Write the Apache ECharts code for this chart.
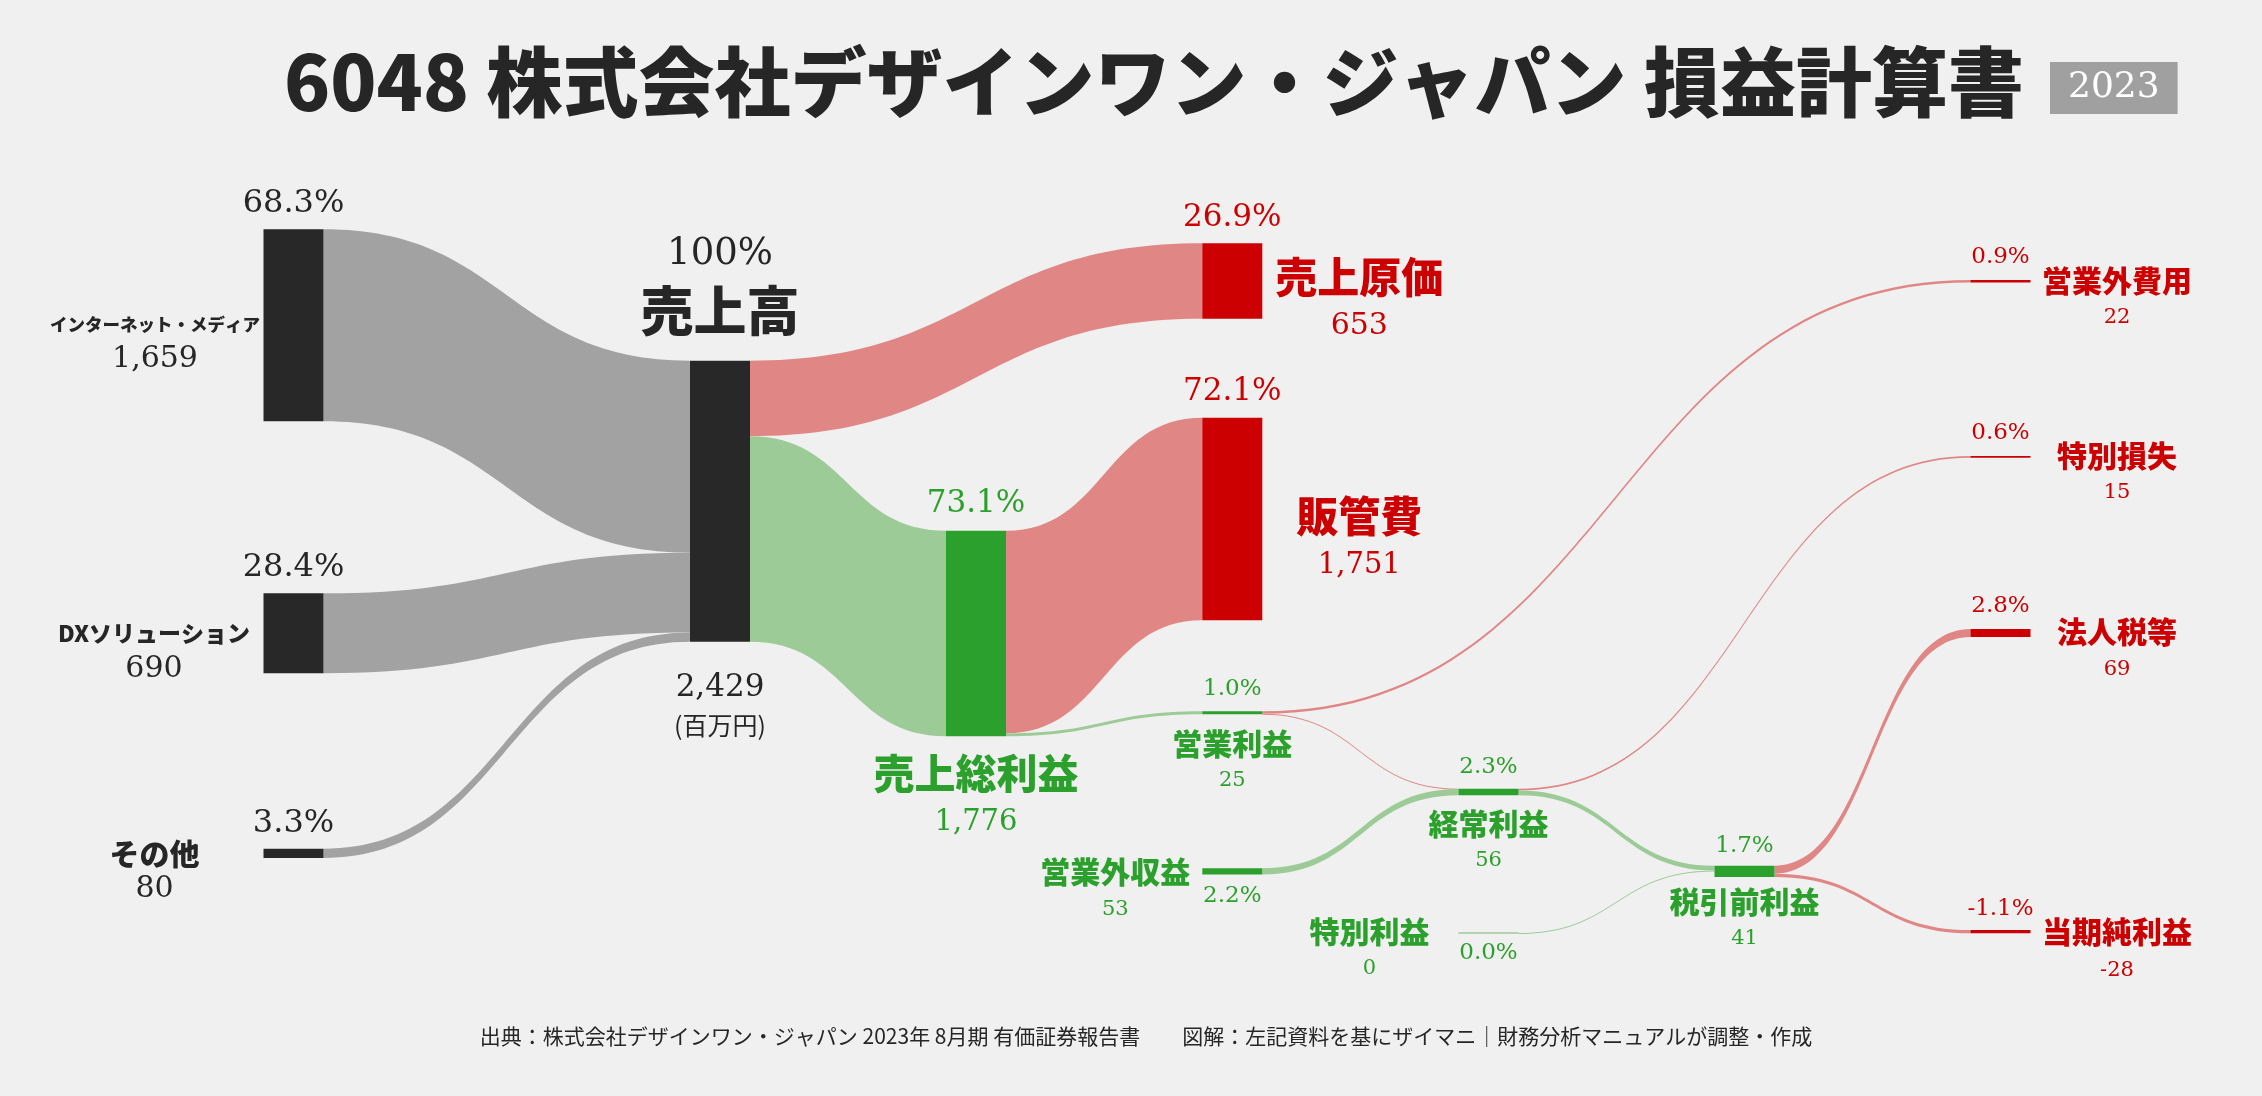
<!DOCTYPE html>
<html><head><meta charset="utf-8">
<script src="https://cdn.jsdelivr.net/npm/echarts@6/dist/echarts.min.js"></script>
<style>html,body{margin:0;padding:0;background:#f0f0f0;}#c{width:2262px;height:1096px;}</style>
</head><body><div id="c"></div>
<script>
// ---------------- data ----------------
const nodeNames = ['インターネット・メディア','DXソリューション','その他','売上高','売上総利益','売上原価','販管費','営業利益','営業外収益','経常利益','特別利益','税引前利益','営業外費用','特別損失','法人税等','当期純利益'];
const nodeValues = [1659, 690, 80, 2429, 1776, 653, 1751, 25, 53, 56, 0, 41, 22, 15, 69, -28];
const nodeShares = ['68.3%','28.4%','3.3%','100%','73.1%','26.9%','72.1%','1.0%','2.2%','2.3%','0.0%','1.7%','0.9%','0.6%','2.8%','-1.1%'];
const linkSources = ['インターネット・メディア','DXソリューション','その他','売上高','売上高','売上総利益','売上総利益','営業利益','営業利益','営業外収益','経常利益','経常利益','特別利益','税引前利益','税引前利益'];
const linkTargets = ['売上高','売上高','売上高','売上原価','売上総利益','販管費','営業利益','営業外費用','経常利益','経常利益','特別損失','税引前利益','税引前利益','法人税等','当期純利益'];
const linkValues = [1659, 690, 80, 653, 1776, 1751, 25, 22, 3, 53, 15, 41, 0, 69, 28];
const titleText = '6048 株式会社デザインワン・ジャパン 損益計算書';
const yearText = '2023';
const unitText = '(百万円)';
const sourceText = '出典：株式会社デザインワン・ジャパン 2023年 8月期 有価証券報告書　　図解：左記資料を基にザイマニ｜財務分析マニュアルが調整・作成';

// ---------------- styles / layout ----------------
const W = 2262, H = 1096;
const PX_PER_UNIT = 0.1157;
const SERIF = '"DejaVu Serif", serif';
const SANS = '"Noto Sans CJK JP", "Noto Sans", sans-serif';
const nodeKind = ['rev','rev','rev','rev','profit','cost','cost','profit','profit','profit','profit','profit','cost','cost','cost','cost'];
const linkKind = ['rev','rev','rev','cost','profit','cost','profit','cost','cost','profit','cost','profit','profit','cost','cost'];
const nodeColor = {rev:'#282828', cost:'#cc0000', profit:'#2ca02c'};
const textColor = {rev:'#262626', cost:'#cc0000', profit:'#2ca02c'};
const linkColor = {rev:'#a2a2a2', cost:'#e08785', profit:'#9ccb98'};
// node placement (top-left, px) + label styling
const nodeLayout = [
  {x:263.5, y:229.3, depth:0, side:'left',  dist:108.5, nf:17.5, nlh:30, vf:30, vlh:40, dy:-1, pside:'top', pdist:10, pf:32},
  {x:263.5, y:593.3, depth:0, side:'left',  dist:109.5, nf:23, nlh:30, vf:30, vlh:42, dy:0, pside:'top', pdist:10, pf:32},
  {x:263.5, y:848.7, depth:0, side:'left',  dist:109, nf:30, nlh:32, vf:30, vlh:40, dy:0, pside:'top', pdist:9, pf:32},
  {x:690,   y:360.7, depth:1, side:'unit',  dist:26, vf:31, vlh:40, uf:25, ulh:36, pside:'top', pdist:20, pf:37, plh:52, pname:true},
  {x:946,   y:530.7, depth:2, side:'bottom',dist:12, nf:41, nlh:50, vf:29, vlh:48, pside:'top', pdist:11, pf:31},
  {x:1202.3,y:243.3, depth:3, side:'right', dist:97, nf:42, nlh:50, vf:30, vlh:48, dy:-4, pside:'top', pdist:10, pf:31},
  {x:1202.3,y:417.7, depth:3, side:'right', dist:97, nf:42, nlh:50, vf:29, vlh:48, dy:-3, pside:'top', pdist:10, pf:31},
  {x:1202.3,y:711.3, depth:3, side:'bottom',dist:11, nf:30, nlh:36, vf:21, vlh:38, pside:'top', pdist:11, pf:23},
  {x:1202.3,y:868.3, depth:3, side:'left',  dist:87, nf:30, nlh:36, vf:21, vlh:40, dy:0, pside:'bottom', pdist:10, pf:23},
  {x:1458.5,y:788.7, depth:4, side:'bottom',dist:10, nf:30, nlh:36, vf:21, vlh:38, pside:'top', pdist:10, pf:23},
  {x:1458.5,y:933,   depth:4, side:'left',  dist:88.5, nf:30, nlh:36, vf:21, vlh:38, dy:-1, pside:'bottom', pdist:9, pf:23},
  {x:1714.5,y:865.7, depth:4, side:'bottom',dist:7, nf:30, nlh:36, vf:21, vlh:38, pside:'top', pdist:8, pf:23},
  {x:1970.5,y:280,   depth:6, side:'right', dist:86.5, nf:30, nlh:36, vf:21, vlh:38, dy:-1, pside:'top', pdist:11, pf:23},
  {x:1970.5,y:456,   depth:6, side:'right', dist:86.5, nf:30, nlh:36, vf:21, vlh:38, dy:-1, pside:'top', pdist:11, pf:23},
  {x:1970.5,y:629,   depth:6, side:'right', dist:86.5, nf:30, nlh:36, vf:21, vlh:40, dy:-1, pside:'top', pdist:11, pf:23},
  {x:1970.5,y:930,   depth:6, side:'right', dist:86.5, nf:30, nlh:36, vf:21, vlh:42, dy:0, pside:'top', pdist:9, pf:23}
];

// gap so that the library's value->pixel scale equals PX_PER_UNIT
function nodeFlow(name){
  let i=0,o=0;
  linkSources.forEach((s,k)=>{ if(s===name) o+=linkValues[k]; if(linkTargets[k]===name) i+=linkValues[k]; });
  return Math.max(i,o);
}
const cols = {};
nodeNames.forEach((n,i)=>{ const d=nodeLayout[i].depth; (cols[d]=cols[d]||{n:0,s:0}); cols[d].n++; cols[d].s+=nodeFlow(n); });
let gap = Infinity;
Object.values(cols).forEach(c=>{ if(c.n>1){ gap=Math.min(gap,(H-PX_PER_UNIT*c.s)/(c.n-1)); } });

const fmt = v => v.toLocaleString('en-US');

function mainLabel(i){
  const L = nodeLayout[i], c = textColor[nodeKind[i]];
  const rich = {
    n:{fontFamily:SANS, fontWeight:900, fontSize:L.nf||30, lineHeight:L.nlh||36, color:c},
    v:{fontFamily:SERIF, fontSize:L.vf, lineHeight:L.vlh, color:c},
    u:{fontFamily:SANS, fontSize:L.uf||25, lineHeight:L.ulh||36, color:c}
  };
  const text = L.side==='unit' ? `{v|${fmt(nodeValues[i])}}\n{u|${unitText}}` : `{n|${nodeNames[i]}}\n{v|${fmt(nodeValues[i])}}`;
  const lab = {show:true, formatter:text, rich, distance:L.dist, align:'center', verticalAlign:'top'};
  if (L.side==='left' || L.side==='right'){ lab.position=L.side; lab.offset=[0, -L.nlh/2 + (L.dy||0)]; }
  else lab.position='bottom';
  return lab;
}
function pctLabel(i){
  const L = nodeLayout[i], c = textColor[nodeKind[i]];
  const rich = {
    p:{fontFamily:SERIF, fontSize:L.pf, lineHeight:L.plh||L.pf, color:c},
    n:{fontFamily:SANS, fontWeight:900, fontSize:53, lineHeight:60, color:c}
  };
  const text = L.pname ? `{p|${nodeShares[i]}}\n{n|${nodeNames[i]}}` : `{p|${nodeShares[i]}}`;
  return {show:true, position:L.pside, distance:L.pdist, align:'center', verticalAlign: L.pside==='top'?'bottom':'top', formatter:text, rich};
}

function buildNodes(visible){
  return nodeNames.map((name,i)=>{
    const L = nodeLayout[i];
    const col = nodeColor[nodeKind[i]];
    const item = {name, value:nodeValues[i], depth:L.depth, localX:L.x/W, localY:L.y/H};
    if (visible){
      item.itemStyle = {color:col, borderWidth:0, opacity:1};
      if (nodeFlow(name)===0) item.itemStyle = {color:linkColor[nodeKind[i]], borderColor:linkColor[nodeKind[i]], borderWidth:1};
      item.label = mainLabel(i);
    } else {
      item.itemStyle = {color:'rgba(0,0,0,0)', borderWidth:0};
      item.label = pctLabel(i);
    }
    return item;
  });
}
function buildLinks(visible){
  return linkSources.map((s,k)=>({source:s, target:linkTargets[k], value:linkValues[k],
    lineStyle: visible ? {color:linkColor[linkKind[k]], opacity:1} : {color:'rgba(0,0,0,0)', opacity:0}}));
}
function sankeySeries(visible){
  return {
    type:'sankey', left:0, top:0, width:W, height:H,
    nodeWidth:60, nodeGap:gap, layoutIterations:0, nodeAlign:'left', draggable:false,
    silent:!visible, emphasis:{disabled:true},
    lineStyle:{curveness:0.5, opacity:1},
    data:buildNodes(visible), links:buildLinks(visible)
  };
}

const chart = echarts.init(document.getElementById('c'), null, {renderer:'canvas'});
chart.setOption({
  backgroundColor:'#f0f0f0',
  animation:false,
  title:[
    {text:titleText, left:284, top:37, padding:0, textStyle:{fontFamily:SANS, fontWeight:900, fontSize:76, lineHeight:90, color:'#262626'}},
    {text:yearText, left:2050, top:62, padding:[8,18], backgroundColor:'#a0a0a0', textStyle:{fontFamily:SERIF, fontWeight:'normal', fontSize:36, lineHeight:36, color:'#ffffff'}},
    {text:sourceText, left:1146, textAlign:'center', top:1023, padding:0, textStyle:{fontFamily:SANS, fontWeight:'normal', fontSize:21, lineHeight:26, color:'#262626'}}
  ],
  tooltip:{show:false},
  series:[sankeySeries(true), sankeySeries(false)]
});
</script></body></html>
